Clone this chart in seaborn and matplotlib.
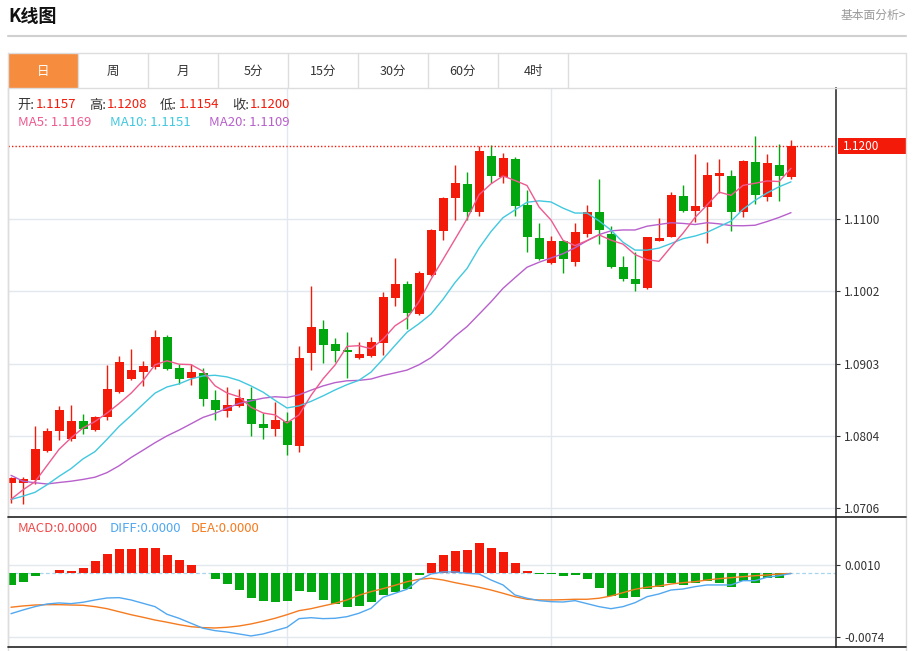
import numpy as np
import pandas as pd
import matplotlib
matplotlib.use("Agg")
import matplotlib.pyplot as plt
from matplotlib.patches import Rectangle
from matplotlib.lines import Line2D
import seaborn as sns

sns.set_style("white")
plt.rcParams['font.family'] = ['Noto Sans CJK SC', 'DejaVu Sans']

# ---------------------------------------------------------------------------
# Daily K-line data (66 sessions)
# ---------------------------------------------------------------------------
open_ = [1.0740, 1.0740, 1.0745, 1.0784, 1.0811, 1.0800, 1.0825, 1.0813, 1.0830, 1.0865,
         1.0882, 1.0892, 1.0899, 1.0939, 1.0897, 1.0883, 1.0891, 1.0854, 1.0839, 1.0845,
         1.0855, 1.0821, 1.0814, 1.0825, 1.0791, 1.0917, 1.0950, 1.0930, 1.0922, 1.0911,
         1.0914, 1.0931, 1.0992, 1.1012, 1.0971, 1.1024, 1.1083, 1.1128, 1.1148, 1.1110,
         1.1186, 1.1157, 1.1182, 1.1119, 1.1074, 1.1040, 1.1070, 1.1041, 1.1080, 1.1110,
         1.1080, 1.1034, 1.1019, 1.1006, 1.1070, 1.1075, 1.1131, 1.1111, 1.1117, 1.1159,
         1.1158, 1.1109, 1.1177, 1.1130, 1.1174, 1.1157]
high = [1.0749, 1.0749, 1.0818, 1.0816, 1.0845, 1.0847, 1.0835, 1.0832, 1.0901, 1.0913,
        1.0923, 1.0907, 1.0949, 1.0942, 1.0903, 1.0903, 1.0897, 1.0867, 1.0871, 1.0869,
        1.0872, 1.0836, 1.0851, 1.0837, 1.0927, 1.1009, 1.0963, 1.0938, 1.0946, 1.0932,
        1.0940, 1.1000, 1.1047, 1.1016, 1.1029, 1.1086, 1.1130, 1.1174, 1.1164, 1.1199,
        1.1201, 1.1190, 1.1184, 1.1139, 1.1095, 1.1077, 1.1070, 1.1095, 1.1119, 1.1155,
        1.1090, 1.1050, 1.1055, 1.1075, 1.1101, 1.1137, 1.1146, 1.1188, 1.1178, 1.1181,
        1.1167, 1.1180, 1.1213, 1.1188, 1.1202, 1.1208]
low = [1.0713, 1.0712, 1.0739, 1.0783, 1.0799, 1.0798, 1.0807, 1.0812, 1.0826, 1.0863,
       1.0881, 1.0873, 1.0896, 1.0894, 1.0876, 1.0874, 1.0846, 1.0827, 1.0830, 1.0844,
       1.0805, 1.0800, 1.0804, 1.0779, 1.0783, 1.0894, 1.0904, 1.0906, 1.0883, 1.0910,
       1.0912, 1.0915, 1.0982, 1.0950, 1.0969, 1.1023, 1.1071, 1.1099, 1.1099, 1.1104,
       1.1149, 1.1149, 1.1104, 1.1055, 1.1044, 1.1039, 1.1027, 1.1036, 1.1075, 1.1066,
       1.1033, 1.1015, 1.1002, 1.1005, 1.1070, 1.1075, 1.1110, 1.1096, 1.1068, 1.1136,
       1.1083, 1.1103, 1.1121, 1.1125, 1.1124, 1.1154]
close = [1.0747, 1.0746, 1.0787, 1.0812, 1.0840, 1.0825, 1.0814, 1.0831, 1.0869, 1.0905,
         1.0895, 1.0900, 1.0939, 1.0896, 1.0882, 1.0892, 1.0855, 1.0840, 1.0847, 1.0856,
         1.0821, 1.0816, 1.0827, 1.0792, 1.0911, 1.0953, 1.0929, 1.0921, 1.0919, 1.0916,
         1.0932, 1.0994, 1.1012, 1.0972, 1.1027, 1.1085, 1.1129, 1.1149, 1.1110, 1.1192,
         1.1159, 1.1183, 1.1118, 1.1076, 1.1046, 1.1070, 1.1045, 1.1082, 1.1110, 1.1085,
         1.1034, 1.1018, 1.1011, 1.1075, 1.1074, 1.1132, 1.1111, 1.1118, 1.1160, 1.1162,
         1.1110, 1.1179, 1.1132, 1.1176, 1.1158, 1.1200]

# closes of the 19 sessions before the window (only feed the moving averages)
prev_close = [1.0905, 1.0830, 1.0845, 1.0800, 1.0790, 1.0765, 1.0770, 1.0745, 1.0720, 1.0670,
              1.0700, 1.0735, 1.0710, 1.0725, 1.0720, 1.0681, 1.0732, 1.0702, 1.0730]

# MACD panel
macd_bar = [-0.00138, -0.00103, -0.00033, 0.00010, 0.00037, 0.00033, 0.00064, 0.00142, 0.00231, 0.00286,
            0.00286, 0.00301, 0.00301, 0.00212, 0.00154, 0.00099, 0.00000, -0.00068, -0.00123, -0.00193,
            -0.00290, -0.00325, -0.00336, -0.00325, -0.00200, -0.00219, -0.00309, -0.00360, -0.00387, -0.00379,
            -0.00329, -0.00251, -0.00212, -0.00181, -0.00018, 0.00119, 0.00212, 0.00259, 0.00271, 0.00356,
            0.00298, 0.00247, 0.00119, 0.00029, -0.00006, -0.00003, -0.00033, -0.00018, -0.00060, -0.00165,
            -0.00262, -0.00290, -0.00270, -0.00185, -0.00158, -0.00107, -0.00131, -0.00115, -0.00084, -0.00107,
            -0.00154, -0.00088, -0.00115, -0.00056, -0.00056, 0.00000]
diff = [-0.00469, -0.00426, -0.00387, -0.00356, -0.00344, -0.00352, -0.00336, -0.00309, -0.00286, -0.00282,
        -0.00309, -0.00348, -0.00387, -0.00476, -0.00523, -0.00581, -0.00639, -0.00667, -0.00683, -0.00706,
        -0.00729, -0.00706, -0.00667, -0.00628, -0.00527, -0.00516, -0.00527, -0.00523, -0.00504, -0.00464,
        -0.00406, -0.00278, -0.00231, -0.00184, -0.00076, -0.00006, 0.00018, 0.00018, 0.00002, -0.00006,
        -0.00076, -0.00134, -0.00251, -0.00289, -0.00317, -0.00329, -0.00333, -0.00317, -0.00352, -0.00387,
        -0.00411, -0.00387, -0.00341, -0.00271, -0.00239, -0.00193, -0.00181, -0.00154, -0.00134, -0.00134,
        -0.00134, -0.00084, -0.00084, -0.00044, -0.00026, 0.00000]
dea = [-0.00394, -0.00379, -0.00368, -0.00364, -0.00364, -0.00368, -0.00371, -0.00387, -0.00411, -0.00446,
       -0.00481, -0.00511, -0.00543, -0.00569, -0.00597, -0.00621, -0.00632, -0.00636, -0.00628, -0.00613,
       -0.00589, -0.00558, -0.00523, -0.00481, -0.00434, -0.00411, -0.00379, -0.00348, -0.00309, -0.00254,
       -0.00212, -0.00177, -0.00138, -0.00096, -0.00068, -0.00056, -0.00076, -0.00107, -0.00134, -0.00161,
       -0.00193, -0.00231, -0.00271, -0.00301, -0.00309, -0.00309, -0.00306, -0.00301, -0.00301, -0.00289,
       -0.00263, -0.00224, -0.00184, -0.00161, -0.00146, -0.00123, -0.00107, -0.00096, -0.00076, -0.00061,
       -0.00049, -0.00037, -0.00026, -0.00018, -0.00006, 0.00000]

price_ticks = [1.0706, 1.0804, 1.0903, 1.1002, 1.1100]
macd_ticks = [0.0010, -0.0074]
month_breaks = [23, 45]
tabs = ['日', '周', '月', '5分', '15分', '30分', '60分', '4时']

RED = '#F31A0A'
GREEN = '#02A60E'
C_MA5, C_MA10, C_MA20 = '#EE5A8F', '#41C8DF', '#B860CC'
C_DIFF, C_DEA = '#52A8F0', '#F47B20'
GRID = '#E3E8EE'

# moving averages
all_close = pd.Series(prev_close + close)
n = len(close)
ma5 = all_close.rolling(5).mean().values[-n:]
ma10 = all_close.rolling(10).mean().values[-n:]
ma20 = all_close.rolling(20).mean().values[-n:]

W, H = 914, 651
fig = plt.figure(figsize=(W / 100, H / 100), dpi=100)
fig.patch.set_facecolor('white')


def fx(x):
    return x / W


def fy(y):
    return 1 - y / H


def ftext(x, y, s, **kw):
    fig.text(fx(x), fy(y), s, **kw)


def fline(x0, x1, y0, y1, **kw):
    fig.add_artist(Line2D([fx(x0), fx(x1)], [fy(y0), fy(y1)], transform=fig.transFigure, **kw))


# ---------------------------------------------------------------------------
# Header and tabs
# ---------------------------------------------------------------------------
ftext(8, 16, 'K线图', fontsize=13, fontweight='bold', color='#111111', va='center', ha='left')
ftext(906, 15, '基本面分析>', fontsize=8.5, color='#999999', va='center', ha='right')
fline(8, 906, 36, 36, color='#D0D0D0', lw=1.5)

fig.add_artist(Rectangle((fx(8), fy(88)), fx(70), 35 / H, transform=fig.transFigure,
                         facecolor='#F58C3E', edgecolor='none'))
fline(8, 906, 53, 53, color='#DDDDDD', lw=1)
fline(8, 906, 88, 88, color='#DDDDDD', lw=1)
for i, t in enumerate(tabs):
    fline(8 + 70 * (i + 1), 8 + 70 * (i + 1), 53, 88, color='#DDDDDD', lw=1)
    ftext(8 + 70 * i + 35, 71, t, fontsize=9, ha='center', va='center',
          color='white' if i == 0 else '#333333')
fline(8, 8, 53, 651, color='#DDDDDD', lw=1)
fline(906, 906, 53, 651, color='#DDDDDD', lw=1)

# ---------------------------------------------------------------------------
# Price panel
# ---------------------------------------------------------------------------
ax = fig.add_axes([fx(8), fy(517), fx(828), 429 / H])
ax2 = fig.add_axes([fx(8), fy(647), fx(828), 130 / H])

idx = np.arange(n)
o = np.array(open_)
c = np.array(close)
colors = np.where(c >= o, RED, GREEN)

for b in month_breaks:
    ax.axvline(b, color=GRID, lw=1, zorder=0)
    ax2.axvline(b, color=GRID, lw=1, zorder=0)
for t in price_ticks:
    ax.axhline(t, color=GRID, lw=1, zorder=0)

ax.vlines(idx, low, high, colors=colors, lw=1, zorder=2)
ax.bar(idx, np.maximum(np.abs(c - o), 0.00003), bottom=np.minimum(o, c), width=0.75,
       color=colors, linewidth=0, zorder=2)

sns.lineplot(x=idx, y=ma20, ax=ax, color=C_MA20, lw=1, zorder=3)
sns.lineplot(x=idx, y=ma10, ax=ax, color=C_MA10, lw=1, zorder=3)
sns.lineplot(x=idx, y=ma5, ax=ax, color=C_MA5, lw=1, zorder=3)

ax.axhline(close[-1], color=RED, lw=1, ls=(0, (1, 1.5)), zorder=4)

ax.set_xlim(-0.25, 68.75)
ax.set_ylim(1.06944, 1.12783)
ax.set_yticks(price_ticks)
ax.set_yticklabels([f'{t:.4f}' for t in price_ticks])
ax.set_xticks([])

# ---------------------------------------------------------------------------
# MACD panel
# ---------------------------------------------------------------------------
for t in macd_ticks:
    ax2.axhline(t, color=GRID, lw=1, zorder=0)
ax2.axhline(0, color='#A6D6EE', lw=0.9, ls=(0, (3, 2)), zorder=1)
mb = np.array(macd_bar)
ax2.bar(idx, mb, width=0.75, color=np.where(mb >= 0, RED, GREEN), linewidth=0, zorder=2)
sns.lineplot(x=idx, y=dea, ax=ax2, color=C_DEA, lw=1, zorder=3)
sns.lineplot(x=idx, y=diff, ax=ax2, color=C_DIFF, lw=1, zorder=3)
ax2.set_xlim(-0.25, 68.75)
ax2.set_ylim(-0.00858, 0.00659)
ax2.set_yticks(macd_ticks)
ax2.set_yticklabels([f'{t:.4f}' for t in macd_ticks])
ax2.set_xticks([])

for a in (ax, ax2):
    a.set_facecolor('white')
    a.set_xlabel('')
    a.set_ylabel('')
    a.yaxis.tick_right()
    a.tick_params(axis='y', direction='out', length=3, width=0.8, color='#333333',
                  labelcolor='#333333', labelsize=8.5, pad=3)
    a.spines['top'].set_visible(False)
    a.spines['bottom'].set_visible(False)
    a.spines['left'].set_color('#DDDDDD')
    a.spines['left'].set_linewidth(1)
    a.spines['right'].set_color('#333333')
    a.spines['right'].set_linewidth(1.2)

fline(8, 906, 517, 517, color='#222222', lw=1.2)
fline(8, 906, 647, 647, color='#222222', lw=1.2)

# last price marker
fig.add_artist(Rectangle((fx(838), fy(154)), fx(68), 16 / H, transform=fig.transFigure,
                         facecolor=RED, edgecolor='none'))
ftext(843, 146, f'{close[-1]:.4f}', fontsize=8.5, color='white', ha='left', va='center')

# info text
info_y = 105
for x_lab, x_val, lab, val in [(17, 36, '开:', open_[-1]), (89, 107, '高:', high[-1]),
                                (160, 179, '低:', low[-1]), (232, 250, '收:', close[-1])]:
    ftext(x_lab, info_y, lab, fontsize=9.5, color='#333333', va='center')
    ftext(x_val, info_y, f'{val:.4f}', fontsize=9.5, color=RED, va='center')
ftext(18, 123, f'MA5: {ma5[-1]:.4f}', fontsize=9.5, color=C_MA5, va='center')
ftext(110, 123, f'MA10: {ma10[-1]:.4f}', fontsize=9.5, color=C_MA10, va='center')
ftext(209, 123, f'MA20: {ma20[-1]:.4f}', fontsize=9.5, color=C_MA20, va='center')

ftext(18, 528, f'MACD:{abs(macd_bar[-1]):.4f}', fontsize=9.5, color='#F04A4A', va='center')
ftext(110, 528, f'DIFF:{abs(diff[-1]):.4f}', fontsize=9.5, color=C_DIFF, va='center')
ftext(191, 528, f'DEA:{abs(dea[-1]):.4f}', fontsize=9.5, color=C_DEA, va='center')

fig.savefig('out.png', dpi=100)
